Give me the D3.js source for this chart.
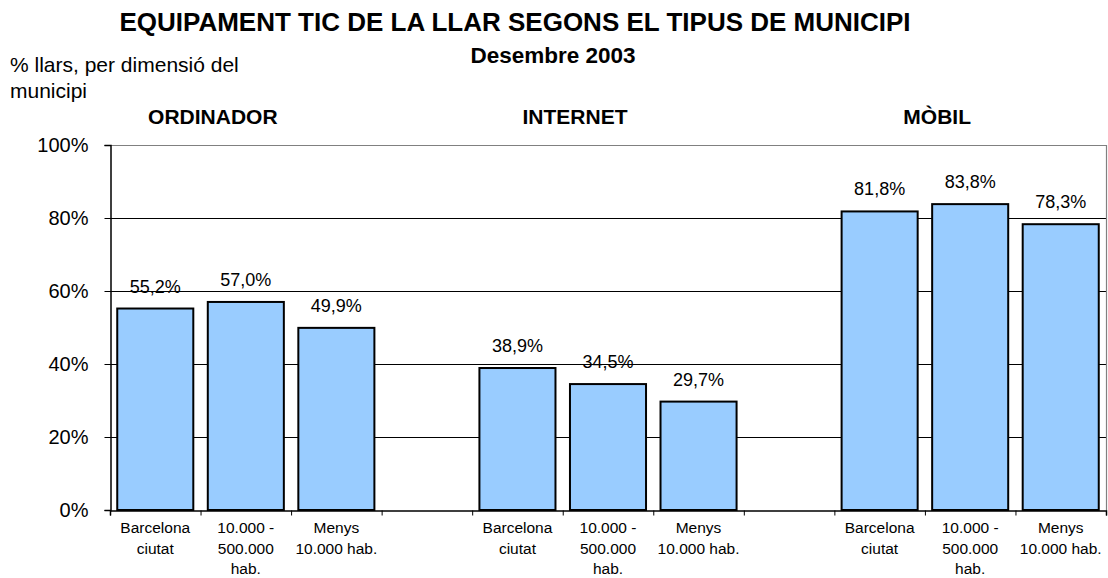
<!DOCTYPE html>
<html>
<head>
<meta charset="utf-8">
<script src="https://cdn.jsdelivr.net/npm/d3@7"></script>
<style>
  body { margin: 0; background: #fff; }
  svg { display: block; font-family: Arial, "Liberation Sans", sans-serif; }
</style>
</head>
<body>
<svg width="1108" height="578"></svg>
<script>
// data
let groups = ["ORDINADOR", "INTERNET", "MÒBIL"];
let catLines = [["Barcelona", "ciutat"], ["10.000 -", "500.000", "hab."], ["Menys", "10.000 hab."]];
let ordinador = [55.2, 57.0, 49.9];
let internet = [38.9, 34.5, 29.7];
let mobil = [81.8, 83.8, 78.3];
let yTicks = [0, 20, 40, 60, 80, 100];

let series = [ordinador, internet, mobil];

let svg = d3.select("svg"),
    width = +svg.attr("width"),
    height = +svg.attr("height");

let plotLeft = 110, plotRight = 1106, plotTop = 145, plotBottom = 510;
let nSlots = groups.length * 4 - 1;

// one slot per bar, an empty slot between groups
let x = d3.scaleBand()
    .domain(d3.range(nSlots))
    .range([plotLeft, plotRight])
    .paddingInner(0.16)
    .paddingOuter(0.08);
let xEdge = d3.scaleLinear().domain([0, nSlots]).range([plotLeft, plotRight]);
let y = d3.scaleLinear().domain([0, 100]).range([plotBottom, plotTop]);

let locale = d3.formatLocale({decimal: ",", thousands: ".", grouping: [3], currency: ["", "€"]});
let fmt = locale.format(".1f");

let bars = [];
series.forEach(function(vals, g) {
  vals.forEach(function(v, i) {
    bars.push({slot: g * 4 + i, value: v, cat: i});
  });
});

// titles
svg.append("text")
    .attr("x", 515).attr("y", 31)
    .attr("text-anchor", "middle")
    .style("font-weight", "bold").style("font-size", "26px")
    .text("EQUIPAMENT TIC DE LA LLAR SEGONS EL TIPUS DE MUNICIPI");
svg.append("text")
    .attr("x", 553).attr("y", 63)
    .attr("text-anchor", "middle")
    .style("font-weight", "bold").style("font-size", "22.5px")
    .text("Desembre 2003");

let unit = svg.append("text").attr("x", 10).attr("y", 72).style("font-size", "21px");
unit.append("tspan").attr("x", 10).text("% llars, per dimensió del");
unit.append("tspan").attr("x", 10).attr("dy", 26).text("municipi");

// gridlines
svg.append("g")
    .selectAll("line")
    .data(yTicks.filter(function(d) { return d > 0 && d < 100; }))
    .enter().append("line")
      .attr("x1", plotLeft).attr("x2", plotRight)
      .attr("y1", function(d) { return y(d) + 0.5; })
      .attr("y2", function(d) { return y(d) + 0.5; })
      .attr("stroke", "#000").attr("stroke-width", 1);

// plot border top/right
svg.append("path")
    .attr("d", "M" + plotLeft + "," + (plotTop + 0.5) + "H" + (plotRight + 0.5) + "V" + plotBottom)
    .attr("fill", "none").attr("stroke", "#808080").attr("stroke-width", 1.2);

// bars
svg.append("g")
    .selectAll("rect")
    .data(bars)
    .enter().append("rect")
      .attr("x", function(d) { return x(d.slot); })
      .attr("y", function(d) { return y(d.value); })
      .attr("width", x.bandwidth())
      .attr("height", function(d) { return y(0) - y(d.value); })
      .attr("fill", "#99ccff")
      .attr("stroke", "#000")
      .attr("stroke-width", 2);

// value labels
svg.append("g")
    .selectAll("text")
    .data(bars)
    .enter().append("text")
      .attr("x", function(d) { return x(d.slot) + x.bandwidth() / 2; })
      .attr("y", function(d) { return y(d.value) - 16; })
      .attr("text-anchor", "middle")
      .style("font-size", "18px")
      .text(function(d) { return fmt(d.value) + "%"; });

// y axis
let yAxis = svg.append("g")
    .attr("transform", "translate(" + (plotLeft + 0.5) + ",0)")
    .call(d3.axisLeft(y).tickValues(yTicks).tickSize(6).tickPadding(16)
      .tickFormat(function(d) { return d + "%"; }));
yAxis.select(".domain").attr("stroke", "#000").attr("stroke-width", 1.5);
yAxis.selectAll("text").style("font-size", "20px").style("font-family", "Arial, 'Liberation Sans', sans-serif").attr("fill", "#000");

// x axis, ticks between slots
let xAxis = svg.append("g")
    .attr("transform", "translate(0," + (plotBottom + 0.5) + ")")
    .call(d3.axisBottom(xEdge).tickValues(d3.range(nSlots + 1)).tickSize(5).tickFormat(""));
xAxis.select(".domain").attr("stroke", "#000").attr("stroke-width", 1.5);

// category labels
let catLabel = svg.append("g")
    .selectAll("text")
    .data(bars)
    .enter().append("text")
      .attr("text-anchor", "middle")
      .attr("y", 533)
      .style("font-size", "15.5px");
catLabel.selectAll("tspan")
    .data(function(d) {
      let cx = x(d.slot) + x.bandwidth() / 2;
      return catLines[d.cat].map(function(t) { return {t: t, cx: cx}; });
    })
    .enter().append("tspan")
      .attr("x", function(d) { return d.cx; })
      .attr("dy", function(d, i) { return i === 0 ? 0 : 20.5; })
      .text(function(d) { return d.t; });

// group headers, set a little left of each group's centre
svg.append("g")
    .selectAll("text")
    .data(groups)
    .enter().append("text")
      .attr("x", function(d, g) { return x(g * 4 + 1) + x.bandwidth() / 2 - 33; })
      .attr("y", 124)
      .attr("text-anchor", "middle")
      .style("font-weight", "bold")
      .style("font-size", "21px")
      .text(function(d) { return d; });
</script>
</body>
</html>
